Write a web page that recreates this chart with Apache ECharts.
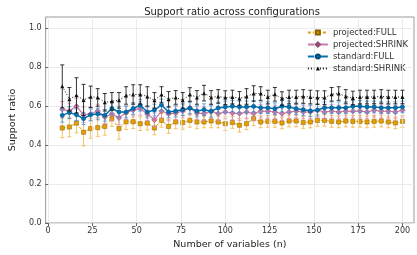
<!DOCTYPE html>
<html>
<head>
<meta charset="utf-8">
<script src="https://cdn.jsdelivr.net/npm/echarts@6/dist/echarts.min.js"></script>
<style>
  html, body { margin: 0; padding: 0; background: #fff; }
  #chart { width: 417px; height: 255px; }
</style>
</head>
<body>
<div id="chart"></div>
<script>
// data
const xs = [8, 12, 16, 20, 24, 28, 32, 36, 40, 44, 48, 52, 56, 60, 64, 68, 72, 76, 80, 84, 88, 92, 96, 100,
  104, 108, 112, 116, 120, 124, 128, 132, 136, 140, 144, 148, 152, 156, 160, 164, 168, 172, 176, 180, 184, 188, 192, 196, 200];

const projFull = [0.488, 0.493, 0.513, 0.466, 0.485, 0.490, 0.496, 0.536, 0.485, 0.520, 0.520, 0.510, 0.513, 0.488, 0.527, 0.496,
  0.519, 0.516, 0.527, 0.519, 0.519, 0.524, 0.519, 0.510, 0.516, 0.502, 0.510, 0.536, 0.519, 0.522, 0.522, 0.514,
  0.524, 0.524, 0.516, 0.519, 0.527, 0.527, 0.522, 0.519, 0.524, 0.522, 0.522, 0.519, 0.522, 0.524, 0.519, 0.514, 0.522];
const projFullErr = [0.05, 0.05, 0.05, 0.07, 0.05, 0.045, 0.045, 0.04, 0.055, 0.04, 0.035, 0.035, 0.035, 0.035, 0.035, 0.035,
  0.035, 0.035, 0.035, 0.035, 0.03, 0.035, 0.03, 0.035, 0.03, 0.035, 0.03, 0.035, 0.03, 0.03, 0.03, 0.03,
  0.03, 0.03, 0.03, 0.03, 0.03, 0.03, 0.03, 0.03, 0.03, 0.03, 0.03, 0.03, 0.03, 0.03, 0.03, 0.03, 0.03];

const projShrink = [0.584, 0.575, 0.600, 0.556, 0.560, 0.575, 0.545, 0.560, 0.540, 0.566, 0.580, 0.588, 0.560, 0.530, 0.575, 0.560,
  0.565, 0.575, 0.590, 0.565, 0.562, 0.574, 0.562, 0.570, 0.565, 0.562, 0.570, 0.562, 0.574, 0.574, 0.570, 0.562,
  0.570, 0.574, 0.570, 0.570, 0.579, 0.570, 0.574, 0.570, 0.574, 0.574, 0.575, 0.570, 0.579, 0.574, 0.574, 0.570, 0.579];
const projShrinkErr = [0.04, 0.04, 0.04, 0.04, 0.035, 0.035, 0.035, 0.035, 0.035, 0.035, 0.035, 0.035, 0.035, 0.035, 0.035, 0.035,
  0.035, 0.035, 0.035, 0.035, 0.035, 0.035, 0.035, 0.035, 0.035, 0.035, 0.035, 0.035, 0.035, 0.035, 0.035, 0.035,
  0.035, 0.035, 0.035, 0.035, 0.035, 0.035, 0.035, 0.035, 0.035, 0.035, 0.035, 0.035, 0.035, 0.035, 0.035, 0.035, 0.035];

const stdFull = [0.553, 0.567, 0.556, 0.536, 0.556, 0.560, 0.553, 0.588, 0.570, 0.570, 0.588, 0.605, 0.570, 0.580, 0.606, 0.570,
  0.575, 0.582, 0.590, 0.575, 0.582, 0.574, 0.591, 0.596, 0.600, 0.596, 0.596, 0.599, 0.592, 0.592, 0.587, 0.600,
  0.596, 0.587, 0.582, 0.576, 0.580, 0.592, 0.592, 0.592, 0.592, 0.599, 0.599, 0.596, 0.596, 0.592, 0.592, 0.592, 0.596];
const stdFullErr = [0.035, 0.03, 0.03, 0.03, 0.03, 0.03, 0.03, 0.03, 0.03, 0.03, 0.03, 0.03, 0.03, 0.03, 0.03, 0.03,
  0.03, 0.03, 0.03, 0.03, 0.03, 0.03, 0.03, 0.03, 0.03, 0.03, 0.03, 0.03, 0.03, 0.03, 0.03, 0.03,
  0.03, 0.03, 0.03, 0.03, 0.03, 0.03, 0.03, 0.03, 0.03, 0.03, 0.03, 0.03, 0.03, 0.03, 0.03, 0.03, 0.03];

const stdShrink = [0.702, 0.636, 0.656, 0.632, 0.648, 0.645, 0.620, 0.625, 0.630, 0.655, 0.660, 0.660, 0.650, 0.630, 0.660, 0.635,
  0.645, 0.630, 0.660, 0.645, 0.667, 0.645, 0.650, 0.644, 0.647, 0.640, 0.650, 0.665, 0.665, 0.647, 0.661, 0.639,
  0.647, 0.647, 0.650, 0.647, 0.644, 0.644, 0.661, 0.665, 0.650, 0.642, 0.647, 0.647, 0.647, 0.650, 0.647, 0.647, 0.647];
const stdShrinkErr = [0.11, 0.06, 0.09, 0.08, 0.055, 0.045, 0.045, 0.045, 0.04, 0.045, 0.05, 0.05, 0.05, 0.04, 0.04, 0.04,
  0.035, 0.04, 0.035, 0.035, 0.04, 0.035, 0.035, 0.035, 0.035, 0.035, 0.04, 0.04, 0.035, 0.035, 0.035, 0.035,
  0.035, 0.035, 0.035, 0.035, 0.035, 0.035, 0.035, 0.035, 0.035, 0.035, 0.035, 0.035, 0.035, 0.035, 0.035, 0.035, 0.035];

const xTicks = [0, 25, 50, 75, 100, 125, 150, 175, 200];
const yTicks = [0, 0.2, 0.4, 0.6, 0.8, 1.0];

const FONT = 'DejaVu Sans';

function pts(vals) {
  return xs.map((x, i) => [x, vals[i]]);
}
function errs(vals, e) {
  return xs.map((x, i) => [x, vals[i] - e[i], vals[i] + e[i]]);
}
function errRender(color) {
  return function (params, api) {
    const x = api.value(0);
    const lo = api.coord([x, api.value(1)]);
    const hi = api.coord([x, api.value(2)]);
    const c = 2;
    const st = { stroke: color, lineWidth: 1 };
    return {
      type: 'group',
      children: [
        { type: 'line', shape: { x1: lo[0], y1: lo[1], x2: hi[0], y2: hi[1] }, style: st },
        { type: 'line', shape: { x1: lo[0] - c, y1: lo[1], x2: lo[0] + c, y2: lo[1] }, style: st },
        { type: 'line', shape: { x1: hi[0] - c, y1: hi[1], x2: hi[0] + c, y2: hi[1] }, style: st }
      ]
    };
  };
}

const chart = echarts.init(document.getElementById('chart'), null, { renderer: 'canvas' });

const option = {
  animation: false,
  textStyle: { fontFamily: FONT },
  title: {
    text: 'Support ratio across configurations',
    left: 227, top: 2, textAlign: 'center',
    textStyle: { fontFamily: FONT, fontSize: 10, fontWeight: 'normal', color: '#222' }
  },
  legend: {
    orient: 'vertical',
    right: 4, top: 23,
    itemWidth: 20, itemHeight: 5, itemGap: 3,
    textStyle: { fontFamily: FONT, fontSize: 8.5, color: '#333' },
    data: ['projected:FULL', 'projected:SHRINK', 'standard:FULL', 'standard:SHRINK']
  },
  grid: { left: 40, right: 3, top: 17, bottom: 32, show: true, borderColor: '#999', borderWidth: 1, backgroundColor: 'transparent' },
  xAxis: {
    type: 'value', min: -1.4, max: 206.5,
    name: 'Number of variables (n)', nameLocation: 'middle', nameGap: 16,
    nameTextStyle: { fontFamily: FONT, fontSize: 9.5, color: '#222' },
    axisLine: { show: false },
    axisTick: { show: true, customValues: xTicks, length: 3, lineStyle: { color: '#666' } },
    axisLabel: { customValues: xTicks, fontSize: 8, color: '#333', margin: 4, fontFamily: FONT },
    splitLine: { show: false }
  },
  yAxis: {
    type: 'value', min: 0, max: 1.058,
    name: 'Support ratio', nameLocation: 'middle', nameGap: 24,
    nameTextStyle: { fontFamily: FONT, fontSize: 9.5, color: '#222' },
    axisLine: { show: false },
    axisTick: { show: true, customValues: yTicks, length: 3, lineStyle: { color: '#666' } },
    axisLabel: { customValues: yTicks, fontSize: 8, color: '#333', margin: 4, fontFamily: FONT,
      formatter: v => v.toFixed(1) },
    interval: 0.2,
    splitLine: { show: true, lineStyle: { color: '#e6e6e6', width: 0.8 } }
  },
  series: [
    {
      name: 'gridx', type: 'line', data: [], silent: true, z: 0,
      markLine: {
        silent: true, symbol: 'none', label: { show: false }, animation: false,
        lineStyle: { color: '#e6e6e6', width: 0.8, type: 'solid' },
        data: xTicks.map(t => ({ xAxis: t }))
      }
    },
    {
      name: 'pf-err', type: 'custom', z: 2, renderItem: errRender('rgba(240,170,40,0.7)'),
      encode: { x: 0, y: [1, 2] }, data: errs(projFull, projFullErr)
    },
    {
      name: 'projected:FULL', type: 'line', z: 3, data: pts(projFull),
      symbol: 'rect', symbolSize: 4.2,
      lineStyle: { color: '#E69F00', width: 1, type: [3, 2] },
      itemStyle: { color: '#E69F00', borderColor: '#8a6000', borderWidth: 0.5 }
    },
    {
      name: 'ps-err', type: 'custom', z: 4, renderItem: errRender('rgba(215,140,180,0.8)'),
      encode: { x: 0, y: [1, 2] }, data: errs(projShrink, projShrinkErr)
    },
    {
      name: 'projected:SHRINK', type: 'line', z: 5, data: pts(projShrink),
      symbol: 'diamond', symbolSize: 5.5,
      lineStyle: { color: '#CC79A7', width: 1.2 },
      itemStyle: { color: '#CC79A7', borderColor: '#8a4a70', borderWidth: 0.5 }
    },
    {
      name: 'sf-err', type: 'custom', z: 6, renderItem: errRender('rgba(70,150,210,0.8)'),
      encode: { x: 0, y: [1, 2] }, data: errs(stdFull, stdFullErr)
    },
    {
      name: 'standard:FULL', type: 'line', z: 7, data: pts(stdFull),
      symbol: 'circle', symbolSize: 4.2,
      lineStyle: { color: '#0072B2', width: 1.5 },
      itemStyle: { color: '#0072B2', borderColor: '#004a78', borderWidth: 0.5 }
    },
    {
      name: 'ss-err', type: 'custom', z: 8, renderItem: errRender('rgba(20,20,20,0.85)'),
      encode: { x: 0, y: [1, 2] }, data: errs(stdShrink, stdShrinkErr)
    },
    {
      name: 'standard:SHRINK', type: 'line', z: 9, data: pts(stdShrink),
      symbol: 'triangle', symbolSize: 4,
      lineStyle: { color: '#111', width: 1, type: [1, 2] },
      itemStyle: { color: '#111' }
    }
  ]
};

chart.setOption(option);
</script>
</body>
</html>
